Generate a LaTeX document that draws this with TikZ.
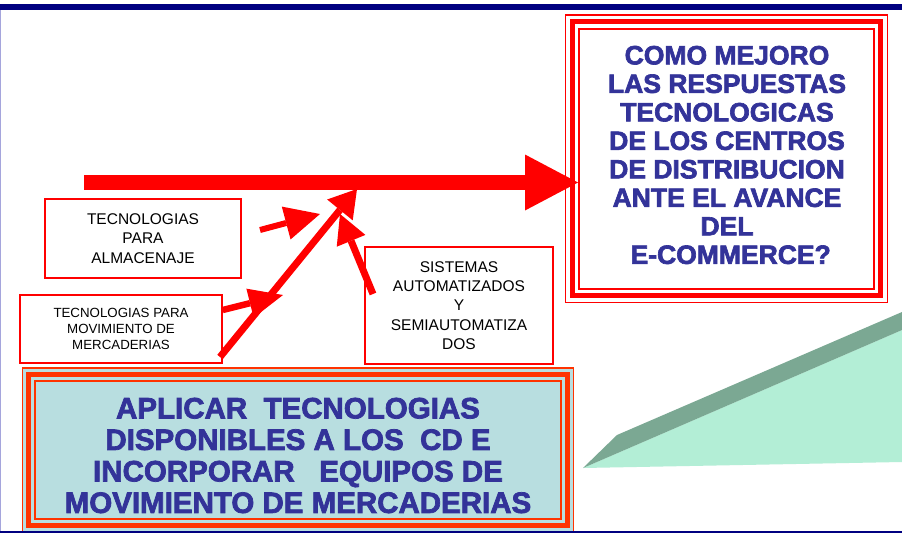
\documentclass[tikz,border=0pt]{standalone}
\usepackage{fontspec}
\setmainfont{Liberation Sans}
\newfontfamily\heavyfont{Liberation Sans}[BoldFeatures={FakeBold=2.5}]
\usetikzlibrary{arrows.meta,positioning}
\definecolor{navy}{RGB}{0,0,128}
\definecolor{edgeline}{RGB}{165,165,220}
\definecolor{titleblue}{RGB}{51,51,153}
\definecolor{frameorange}{RGB}{255,51,0}
\definecolor{paleteal}{RGB}{184,222,224}
\definecolor{palegreen}{RGB}{179,238,214}
\definecolor{darkgreen}{RGB}{123,168,147}

\begin{document}
\begin{tikzpicture}[x=1pt,y=-1pt,
  box/.style={draw=red,line width=1.4pt,fill=white,inner sep=0pt,align=center,text=black},
  heading/.style={text=titleblue,align=center,inner sep=0pt},
  push/.style={draw=red,line width=#1}]

  \useasboundingbox (0,0) rectangle (902,533);
  \fill[white] (0,0) rectangle (902,533);

  % page rules
  \fill[navy] (0,4) rectangle (902,9.5);
  \fill[edgeline] (0,9.5) rectangle (1.3,531);

  % green wedge
  \fill[palegreen] (583,468) -- (902,330) -- (902,462) -- cycle;
  \fill[darkgreen] (583,468) -- (617,435) -- (902,312) -- (902,330) -- cycle;

  % question box
  \node[draw=red,line width=1.5pt,minimum width=322pt,minimum height=287.5pt,inner sep=0pt] (question) at (726.5,158.75) {};
  \draw[red,line width=5pt] ([shift={(7.5,7.5)}]question.north west) rectangle ([shift={(-7.5,-7.5)}]question.south east);
  \draw[red,line width=2pt] ([shift={(14.5,14.5)}]question.north west) rectangle ([shift={(-14.5,-14.5)}]question.south east);
  \node[heading,font=\heavyfont\bfseries\fontsize{26.5}{28.5}\selectfont] (qtext) at (727,155)
    {COMO MEJORO\\LAS RESPUESTAS\\TECNOLOGICAS\\DE LOS CENTROS\\DE DISTRIBUCION\\ANTE EL AVANCE\\DEL\\\ E-COMMERCE?};

  % action box
  \node[draw=frameorange,fill=paleteal,line width=1.5pt,minimum width=551pt,minimum height=164pt,inner sep=0pt] (action) at (298,450) {};
  \draw[frameorange,line width=5pt] ([shift={(7,7)}]action.north west) rectangle ([shift={(-7,-7)}]action.south east);
  \draw[frameorange,line width=2pt] ([shift={(13.5,13.5)}]action.north west) rectangle ([shift={(-13.5,-13.5)}]action.south east);
  \node[heading,font=\heavyfont\bfseries\fontsize{29.5}{31.5}\selectfont] (atext) at (298,455.5)
    {APLICAR\ \ TECNOLOGIAS\\DISPONIBLES A LOS\ \ CD E\\INCORPORAR\ \ \ EQUIPOS DE\\MOVIMIENTO DE MERCADERIAS};

  % technology boxes
  \node[box,minimum width=196pt,minimum height=79pt,font=\fontsize{15.5}{19.5}\selectfont] (storage) at (143,238.5)
    {TECNOLOGIAS\\PARA\\ALMACENAJE};
  \node[box,minimum width=202pt,minimum height=68pt,font=\fontsize{13.3}{16}\selectfont] (handling) at (121,329)
    {TECNOLOGIAS PARA\\MOVIMIENTO DE\\MERCADERIAS};
  \node[box,minimum width=188pt,minimum height=117pt,font=\fontsize{15.5}{19.3}\selectfont] (automation) at (459,305.5)
    {SISTEMAS\\AUTOMATIZADOS\\Y\\SEMIAUTOMATIZA\\DOS};

  % arrows
  \coordinate (mainstart) at (84,182.5);
  \coordinate (maintip) at (578,182.5);
  \coordinate (risefoot) at (220,357);
  \coordinate (risetip) at (357,189);
  \coordinate (storagefoot) at (260,230);
  \coordinate (storagetip) at (320,214);
  \coordinate (handlingtip) at (283,295);
  \coordinate (autofoot) at (373,294);
  \coordinate (autotip) at (340,214);

  \draw[push=15.5pt,-{Triangle[length=53pt,width=56pt,line width=0pt 0]}] (mainstart) -- (maintip);
  \draw[push=7pt,-{Triangle[length=27pt,width=33pt,line width=0pt 0]}] (risefoot) -- (risetip);
  \draw[push=6pt,-{Triangle[length=35pt,width=34pt,line width=0pt 0]}] (storagefoot) -- (storagetip);
  \draw[push=6.5pt,-{Triangle[length=34pt,width=30pt,line width=0pt 0]}] ([yshift=19pt]handling.east) -- (handlingtip);
  \draw[push=7pt,-{Triangle[length=29pt,width=31pt,line width=0pt 0]}] (autofoot) -- (autotip);

  \fill[navy] (0,531) rectangle (902,533);
\end{tikzpicture}
\end{document}
